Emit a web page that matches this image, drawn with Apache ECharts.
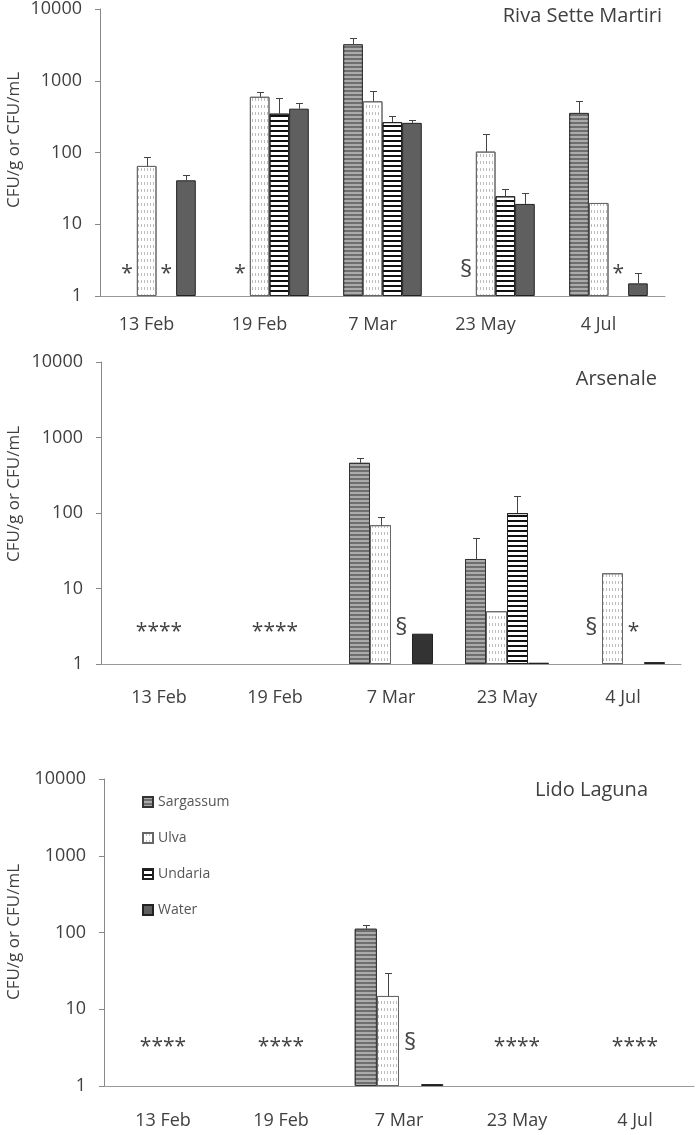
<!DOCTYPE html>
<html><head><meta charset="utf-8">
<script src="https://cdn.jsdelivr.net/npm/echarts@6/dist/echarts.min.js"></script>
<style>html,body{margin:0;padding:0;background:#fff}#c{width:700px;height:1135px}</style>
</head><body><div id="c"></div>
<script>
// ---------- DATA ----------
const categories = ['13 Feb', '19 Feb', '7 Mar', '23 May', '4 Jul'];
const seriesNames = ['Sargassum', 'Ulva', 'Undaria', 'Water'];
const yTicks = [1, 10, 100, 1000, 10000];
const panelTitles = ['Riva Sette Martiri', 'Arsenale', 'Lido Laguna'];
const yAxisTitle = 'CFU/g or CFU/mL';

// Riva Sette Martiri
const rivaSargassum = [null, null, 3220, null, 356];
const rivaUlva      = [65, 598, 517, 103, 19.8];
const rivaUndaria   = [null, 348, 265, 24.5, null];
const rivaWater     = [41, 408, 259, 19.2, 1.5];
// upper end of error bars
const rivaSargassumErr = [null, null, 3890, null, 521];
const rivaUlvaErr      = [86, 687, 724, 183, null];
const rivaUndariaErr   = [null, 574, 324, 31, null];
const rivaWaterErr     = [49, 494, 285, 26.9, 2.12];
// [category, bar slot (-1 = whole group), mark]
const rivaNotes = [[0, 0, '*'], [0, 2, '*'], [1, 0, '*'], [3, 0, '§'], [4, 2, '*']];

// Arsenale
const arsSargassum = [null, null, 462, 24.6, null];
const arsUlva      = [null, null, 69, 5, 15.9];
const arsUndaria   = [null, null, null, 99.7, null];
const arsWater     = [null, null, 2.52, 1.04, 1.06];
const arsSargassumErr = [null, null, 538, 46, null];
const arsUlvaErr      = [null, null, 89, null, null];
const arsUndariaErr   = [null, null, null, 169, null];
const arsWaterErr     = [null, null, null, null, null];
const arsNotes = [[0, -1, '****'], [1, -1, '****'], [2, 2, '§'], [4, 0, '§'], [4, 2, '*']];

// Lido Laguna
const lidoSargassum = [null, null, 112, null, null];
const lidoUlva      = [null, null, 14.9, null, null];
const lidoUndaria   = [null, null, null, null, null];
const lidoWater     = [null, null, 1.06, null, null];
const lidoSargassumErr = [null, null, 125, null, null];
const lidoUlvaErr      = [null, null, 30, null, null];
const lidoUndariaErr   = [null, null, null, null, null];
const lidoWaterErr     = [null, null, null, null, null];
const lidoNotes = [[0, -1, '****'], [1, -1, '****'], [2, 2, '§'], [3, -1, '****'], [4, -1, '****']];

// ---------- STYLE ----------
const FONT = 'Open Sans';
const TXT = '#404040';

const panels = [
  { vals: [rivaSargassum, rivaUlva, rivaUndaria, rivaWater],
    errs: [rivaSargassumErr, rivaUlvaErr, rivaUndariaErr, rivaWaterErr],
    notes: rivaNotes, noteY: 2.28, gap: 0.305,
    grid: { left: 100, top: 6, width: 565, height: 290 },
    labelPad: [0, 20, 0, 0], labelMargin: 20, water: '#5f5f5f',
    titleRight: 33, titleTop: 1, nameY: 140 },
  { vals: [arsSargassum, arsUlva, arsUndaria, arsWater],
    errs: [arsSargassumErr, arsUlvaErr, arsUndariaErr, arsWaterErr],
    notes: arsNotes, noteY: 3.0, gap: 0.276,
    grid: { left: 101, top: 362, width: 580, height: 302 },
    labelPad: [0, 0, 0, 0], labelMargin: 25, water: '#333333',
    titleRight: 38, titleTop: 364, nameY: 494 },
  { vals: [lidoSargassum, lidoUlva, lidoUndaria, lidoWater],
    errs: [lidoSargassumErr, lidoUlvaErr, lidoUndariaErr, lidoWaterErr],
    notes: lidoNotes, noteY: 3.63, gap: 0.25,
    grid: { left: 104, top: 779, width: 590, height: 307 },
    labelPad: [0, 0, 0, 0], labelMargin: 26, water: '#333333',
    titleRight: 47, titleTop: 775, nameY: 932 }
];

function barStyle(i, water) {
  if (i === 0) return { color: '#6e6e6e', borderColor: '#333', borderWidth: 1,
    decal: { symbol: 'rect', symbolSize: 1, dashArrayX: [[1, 0]], dashArrayY: [2, 2], color: '#ababab' } };
  if (i === 1) return { color: '#ffffff', borderColor: '#666', borderWidth: 1,
    decal: { symbol: 'rect', symbolSize: 1, dashArrayX: [1, 1.5], dashArrayY: [3, 4], color: '#bdbdbd' } };
  if (i === 2) return { color: '#ffffff', borderColor: '#222', borderWidth: 1,
    decal: { symbol: 'rect', symbolSize: 1, dashArrayX: [[1, 0]], dashArrayY: [2, 2.5], color: '#111111' } };
  return { color: water, borderColor: '#222', borderWidth: 1 };
}

function errRender(gap) {
  return function (params, api) {
    const cat = api.value(0), v = api.value(1), slot = api.value(2), top = api.value(3);
    const band = api.coord([1, 1])[0] - api.coord([0, 1])[0];
    const bw = band * (1 - gap) / 4;
    const base = api.coord([cat, v]);
    const x = Math.round(base[0] + (slot - 1.5) * bw) + 0.5;
    const yt = Math.round(api.coord([cat, top])[1]) + 0.5;
    return { type: 'group', children: [
      { type: 'line', shape: { x1: x, y1: base[1], x2: x, y2: yt }, style: { stroke: '#444', lineWidth: 1 } },
      { type: 'line', shape: { x1: x - 3.5, y1: yt, x2: x + 3.5, y2: yt }, style: { stroke: '#444', lineWidth: 1 } }
    ] };
  };
}

function noteRender(gap, notes) {
  return function (params, api) {
    const n = notes[params.dataIndex];
    const band = api.coord([1, 1])[0] - api.coord([0, 1])[0];
    const bw = band * (1 - gap) / 4;
    const p = api.coord([api.value(0), api.value(1)]);
    const x = n[1] < 0 ? p[0] : p[0] + (n[1] - 1.5) * bw;
    const isStar = n[2].indexOf('*') >= 0;
    return { type: 'text', x: x, y: p[1] + (isStar ? 4 : 0),
      style: { text: n[2], fill: '#444', font: (isStar ? 21 : 24) + 'px "' + FONT + '"',
        textAlign: 'center', textVerticalAlign: 'middle' } };
  };
}

const option = { animation: false, backgroundColor: '#fff',
  title: [], grid: [], xAxis: [], yAxis: [], series: [], graphic: [],
  legend: { data: seriesNames, orient: 'vertical', left: 142, top: 795, padding: 0,
    itemWidth: 10, itemHeight: 10, itemGap: 22, icon: 'rect',
    textStyle: { fontFamily: FONT, fontSize: 14, color: '#555' } } };

panels.forEach(function (p, k) {
  option.grid.push(Object.assign({ containLabel: false }, p.grid));
  option.title.push({ text: panelTitles[k], right: p.titleRight, top: p.titleTop,
    textStyle: { fontFamily: FONT, fontSize: 20, fontWeight: 'normal', color: TXT } });
  option.xAxis.push({ type: 'category', gridIndex: k, data: categories,
    axisLine: { lineStyle: { color: '#999' } }, axisTick: { show: false },
    axisLabel: { fontFamily: FONT, fontSize: 18, color: TXT, margin: p.labelMargin, padding: p.labelPad } });
  option.yAxis.push({ type: 'log', logBase: 10, gridIndex: k, min: yTicks[0], max: yTicks[yTicks.length - 1],
    splitLine: { show: false },
    axisLine: { show: true, lineStyle: { color: '#888' } },
    axisTick: { show: true, length: 5, lineStyle: { color: '#888' } },
    axisLabel: { fontFamily: FONT, fontSize: 18, color: TXT, margin: 18,
      formatter: function (v) { return String(Math.round(v)); } } });
  p.vals.forEach(function (arr, i) {
    option.series.push({ type: 'bar', name: seriesNames[i], xAxisIndex: k, yAxisIndex: k,
      data: arr, barGap: '0%', barCategoryGap: (p.gap * 100) + '%',
      itemStyle: barStyle(i, p.water), silent: true });
  });
  const errData = [];
  p.errs.forEach(function (arr, i) {
    arr.forEach(function (t, c) { if (t != null && p.vals[i][c] != null) errData.push([c, p.vals[i][c], i, t]); });
  });
  option.series.push({ type: 'custom', xAxisIndex: k, yAxisIndex: k, z: 5, silent: true,
    encode: { x: 0, y: 1 }, data: errData, renderItem: errRender(p.gap) });
  option.series.push({ type: 'custom', xAxisIndex: k, yAxisIndex: k, z: 5, silent: true,
    encode: { x: 0, y: 1 }, data: p.notes.map(function (n) { return [n[0], p.noteY]; }),
    renderItem: noteRender(p.gap, p.notes) });
  option.graphic.push({ type: 'text', x: 14, y: p.nameY, rotation: Math.PI / 2,
    style: { text: yAxisTitle, font: '17px "' + FONT + '"', fill: TXT, textAlign: 'center', textVerticalAlign: 'middle' } });
});

const chart = echarts.init(document.getElementById('c'));
chart.setOption(option);
</script></body></html>
